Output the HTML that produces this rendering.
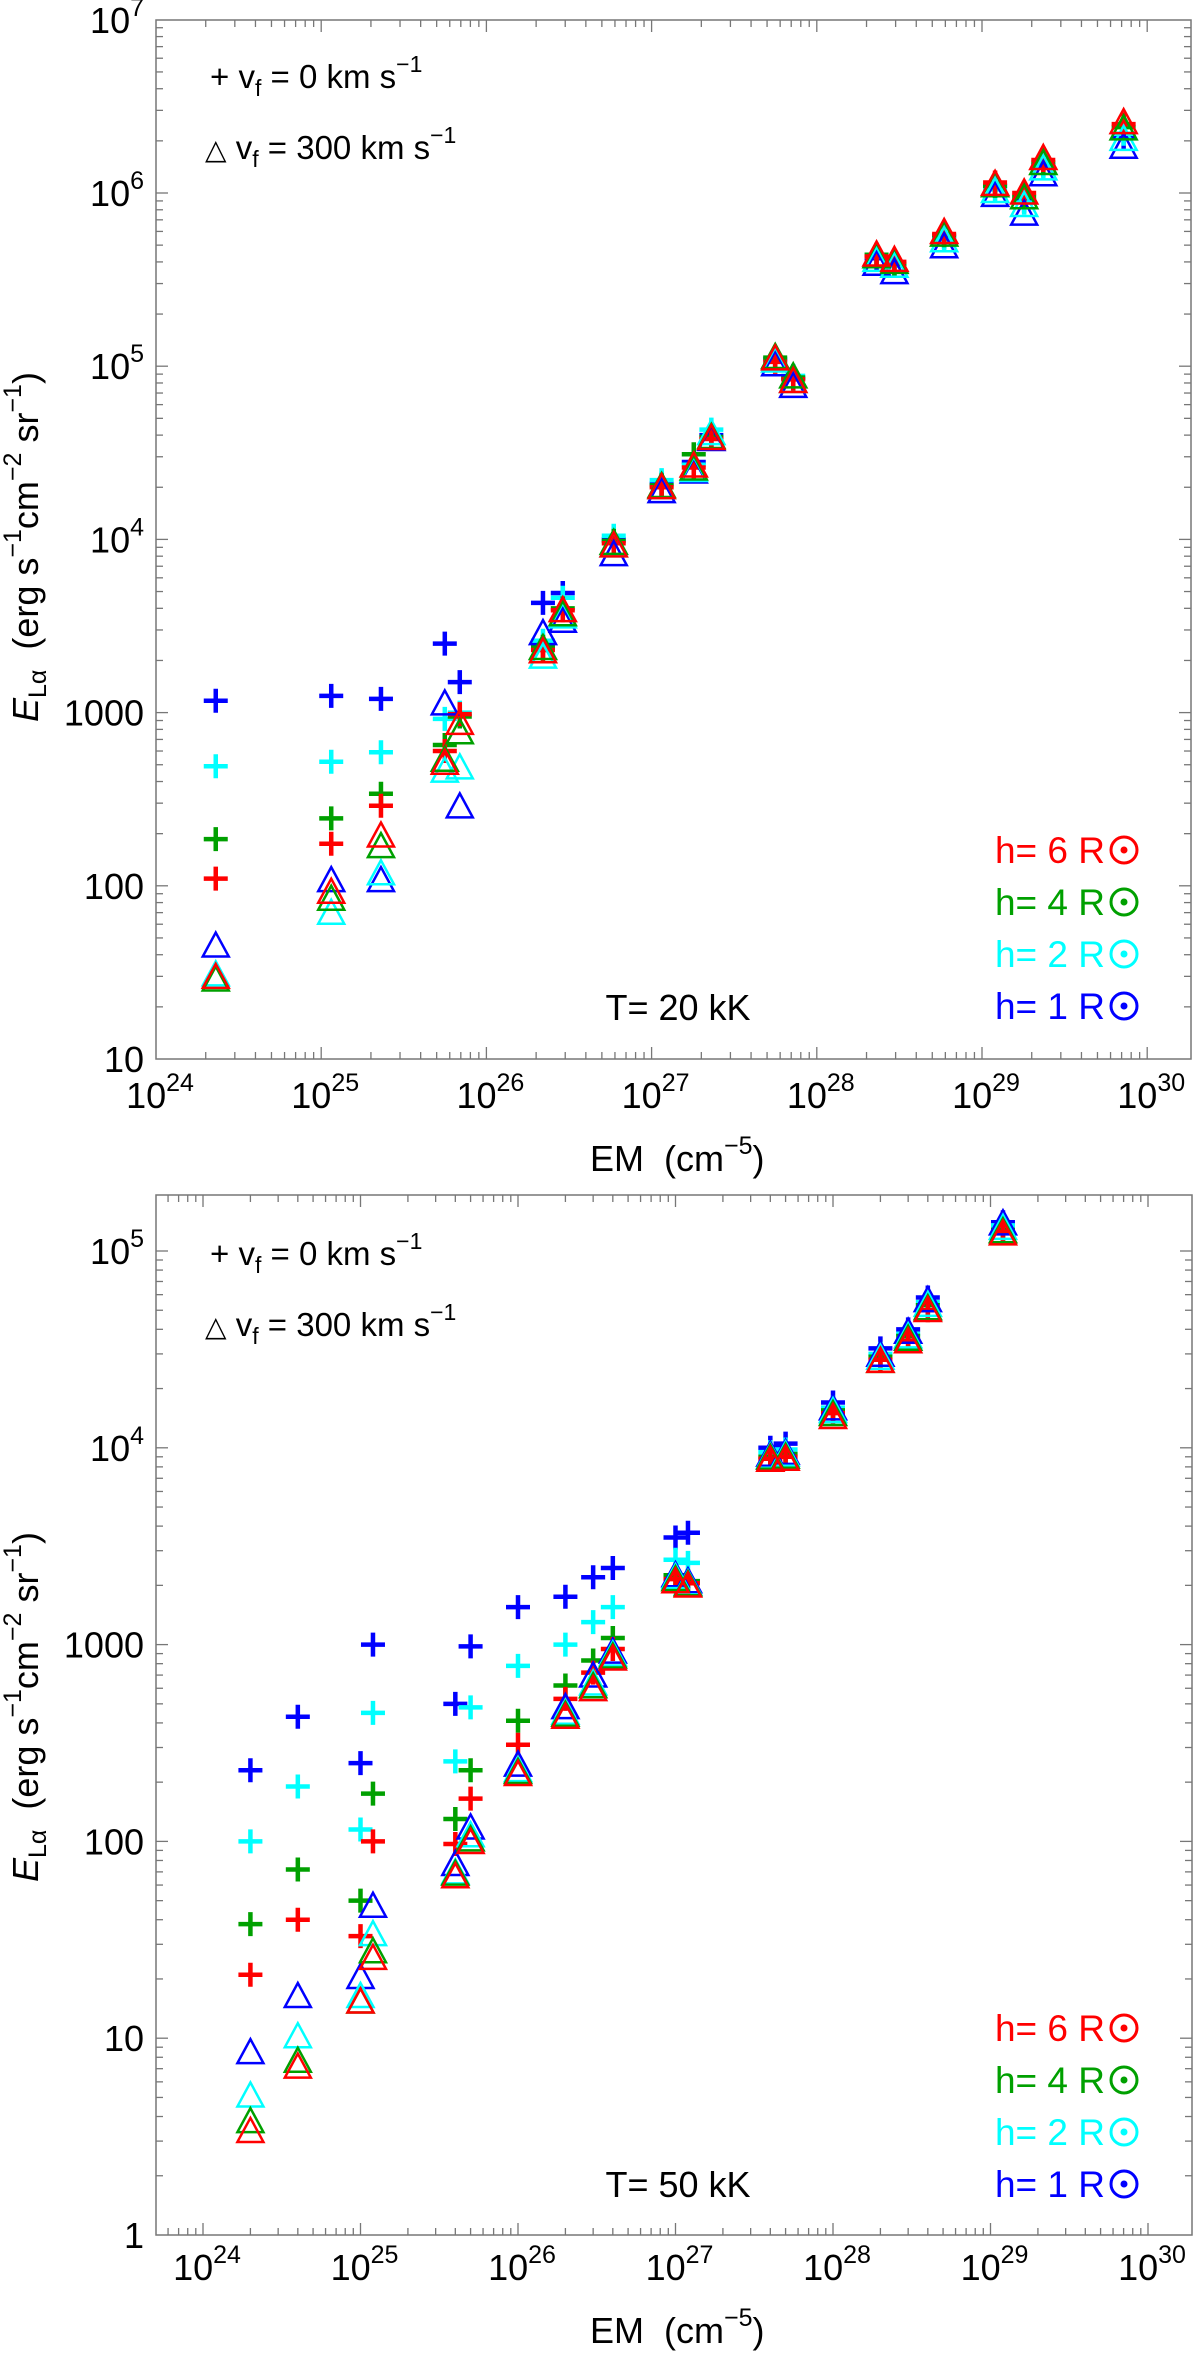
<!DOCTYPE html>
<html><head><meta charset="utf-8">
<style>
html,body{margin:0;padding:0;background:#fff;}
svg{display:block;font-family:"Liberation Sans",sans-serif;}
</style></head>
<body>
<svg id="chart" width="1200" height="2357" viewBox="0 0 1200 2357" xmlns="http://www.w3.org/2000/svg">
<rect x="0" y="0" width="1200" height="2357" fill="#fff"/>
</svg>
<script>
// ---- top panel data (T = 20 kK) ----
const emTop = [2.3e24,1.15e25,2.3e25,5.6e25,6.9e25,2.2e26,2.9e26,5.9e26,1.15e27,1.8e27,2.3e27,5.6e27,7.2e27,2.3e28,2.95e28,5.9e28,1.2e29,1.8e29,2.35e29,7.2e29];
const topPlusBlue  = [1170,1250,1200,2500,1500,4300,4900,10000,21000,28000,40000,110000,85000,420000,390000,560000,1100000,900000,1450000,2100000];
const topPlusCyan  = [490,520,590,920,1000,2600,4600,10500,22000,27000,43000,108000,88000,430000,380000,540000,1050000,880000,1400000,2200000];
const topPlusGreen = [186,245,340,650,950,2400,4000,9800,20500,31000,39000,112000,86000,440000,390000,570000,1100000,950000,1500000,2400000];
const topPlusRed   = [110,175,290,600,980,2300,3900,9500,20000,26000,38000,106000,84000,430000,400000,580000,1150000,1000000,1550000,2500000];
const topTriBlue   = [44,105,105,1100,280,2800,3300,8000,18500,24000,37000,100000,75000,380000,340000,480000,950000,740000,1250000,1800000];
const topTriCyan   = [30,68,115,450,470,2050,3500,9000,19500,24500,40000,105000,80000,400000,370000,520000,1000000,830000,1350000,2000000];
const topTriGreen  = [28,82,165,520,750,2300,3600,9300,19800,25000,38000,110000,85000,420000,390000,560000,1080000,920000,1450000,2300000];
const topTriRed    = [29,90,190,500,850,2200,3800,9000,19500,26000,37500,108000,80000,430000,400000,580000,1100000,980000,1550000,2500000];
// ---- bottom panel data (T = 50 kK) ----
const emBot = [2e24,4e24,1e25,1.2e25,4e25,5e25,1e26,2e26,3e26,4e26,1e27,1.2e27,4e27,5e27,1e28,2e28,3e28,4e28,1.2e29];
const botPlusBlue  = [230,430,250,1000,500,980,1550,1750,2200,2450,3500,3700,10000,10500,17000,32000,40000,58000,140000];
const botPlusCyan  = [100,190,115,450,255,480,780,1000,1300,1550,2700,2600,9500,9800,16000,30000,38000,55000,135000];
const botPlusGreen = [38,72,50,175,130,230,410,620,830,1080,2250,2100,9000,9300,15500,29000,37000,53000,128000];
const botPlusRed   = [21,40,33,100,97,165,310,530,720,950,2150,2050,8800,9000,15000,28000,35000,50000,125000];
const botTriBlue   = [8.3,16,20,46,75,115,240,470,680,900,2200,2050,9000,9200,15500,29000,38000,55000,135000];
const botTriCyan   = [5,10,16,33,68,105,225,440,620,870,2150,2000,8800,9000,15000,28000,36000,52000,128000];
const botTriGreen  = [3.7,7.5,15,27,67,100,220,430,600,850,2100,1980,8700,8800,14500,27000,35000,50000,123000];
const botTriRed    = [3.3,7,15,25,65,97,215,420,580,830,2050,1950,8500,8600,14000,27000,34000,49000,120000];
// ---- tick labels ----
const xTickExps = [24,25,26,27,28,29,30];
const topYTickExps = [1,2,3,4,5,6,7];
const botYTickExps = [0,1,2,3,4,5];
const legendLabels = ["h= 6 R","h= 4 R","h= 2 R","h= 1 R"];

const NS="http://www.w3.org/2000/svg";
const svg=document.getElementById('chart');
const COL={blue:"#0000ff",cyan:"#00ffff",green:"#00a000",red:"#ff0000"};
function el(tag,attrs,parent){const e=document.createElementNS(NS,tag);for(const k in attrs)e.setAttribute(k,attrs[k]);(parent||svg).appendChild(e);return e;}

function panel(cfg){
  const g=el('g',{});
  
  
  const X=v=>cfg.x0+(Math.log10(v)-24)*cfg.xd;
  const Y=v=>cfg.y0-(Math.log10(v)-cfg.ylo)*cfg.yd;
  const L=cfg.left,R=cfg.right,T=cfg.top,B=cfg.bottom;
  const frame=el('rect',{x:L,y:T,width:R-L,height:B-T,fill:'none',stroke:'#777','stroke-width':1.5},g);
  
  
  const xt=el('g',{stroke:'#777','stroke-width':1.3},g);
  
  
  for(let e=23;e<=30;e++){for(let m=1;m<10;m++){const v=m*Math.pow(10,e);const px=X(v);if(px<L+1||px>R-1)continue;const len=m===1?12:7;
    el('line',{x1:px,y1:B,x2:px,y2:B-len},xt);el('line',{x1:px,y1:T,x2:px,y2:T+len},xt);}}
  const yt=el('g',{stroke:'#777','stroke-width':1.3},g);
  
  
  for(let e=-1;e<=7;e++){for(let m=1;m<10;m++){const v=m*Math.pow(10,e);const py=Y(v);if(py<T+1||py>B-1)continue;const len=m===1?12:7;
    el('line',{x1:L,y1:py,x2:L+len,y2:py},yt);el('line',{x1:R,y1:py,x2:R-len,y2:py},yt);}}
  xTickExps.forEach(e=>{const px=X(Math.pow(10,e));
    const t=el('text',{x:px+4,y:cfg.xLabY,'font-size':36,'text-anchor':'middle',fill:'#000'},g);
    
    
    t.appendChild(document.createTextNode('10'));
    const s=el('tspan',{'font-size':25,dy:-17},t);s.textContent=String(e);});
  cfg.yExps.forEach(e=>{const py=Y(Math.pow(10,e));
    const t=el('text',{x:144,y:py+13,'font-size':36,'text-anchor':'end',fill:'#000'},g);
    
    
    if(e<=3){t.textContent=String(Math.pow(10,e));}
    else{t.appendChild(document.createTextNode('10'));const s=el('tspan',{'font-size':25,dy:-17},t);s.textContent=String(e);}});
  const xtl=el('text',{x:590,y:cfg.xTitleY,'font-size':36,fill:'#000'},g);
  
  
  xtl.appendChild(document.createTextNode('EM\u00a0\u00a0(cm'));
  const xs=el('tspan',{'font-size':25,dy:-17},xtl);xs.textContent='\u22125';
  const xs2=el('tspan',{dy:17},xtl);xs2.textContent=')';
  const ytl=el('text',{x:0,y:0,'font-size':36,fill:'#000',transform:`translate(38,${cfg.yTitleEnd}) rotate(-90)`},g);
  
  
  const ye=el('tspan',{'font-style':'italic'},ytl);ye.textContent='E';
  const yl=el('tspan',{'font-size':25,dy:8},ytl);yl.textContent='L\u03b1';
  const yr=el('tspan',{dy:-8},ytl);yr.textContent='\u00a0\u00a0(erg s';
  const p1=el('tspan',{'font-size':25,dy:-17},ytl);p1.textContent='\u22121';
  const p2=el('tspan',{dy:17},ytl);p2.textContent='cm';
  const p3=el('tspan',{'font-size':25,dy:-17},ytl);p3.textContent='\u22122';
  const p4=el('tspan',{dy:17},ytl);p4.textContent='\u00a0sr';
  const p5=el('tspan',{'font-size':25,dy:-17},ytl);p5.textContent='\u22121';
  const p6=el('tspan',{dy:17},ytl);p6.textContent=')';
  const a1=el('text',{x:210,y:cfg.annY1,'font-size':33,fill:'#000'},g);
  
  
  a1.appendChild(document.createTextNode('+ v'));
  let s=el('tspan',{'font-size':23,dy:8},a1);s.textContent='f';
  s=el('tspan',{dy:-8},a1);s.textContent=' = 0 km s';
  s=el('tspan',{'font-size':23,dy:-16},a1);s.textContent='\u22121';
  const a2=el('text',{x:205,y:cfg.annY2,'font-size':33,fill:'#000'},g);
  
  
  s=el('tspan',{'font-size':28},a2);s.textContent='\u25b3';
  s=el('tspan',{},a2);s.textContent=' v';
  s=el('tspan',{'font-size':23,dy:8},a2);s.textContent='f';
  s=el('tspan',{dy:-8},a2);s.textContent=' = 300 km s';
  s=el('tspan',{'font-size':23,dy:-16},a2);s.textContent='\u22121';
  const tl=el('text',{x:678,y:cfg.tY,'font-size':36,'text-anchor':'middle',fill:'#000'},g);
  
  
  tl.textContent=cfg.tText;
  const cols=[COL.red,COL.green,COL.cyan,COL.blue];
  legendLabels.forEach((lab,i)=>{const yy=cfg.legY0+i*52;
    const t=el('text',{x:1105,y:yy,'font-size':37,'text-anchor':'end',fill:cols[i]},g);
    
    
    t.textContent=lab;
    el('circle',{cx:1124,cy:yy-13,r:13,fill:'none',stroke:cols[i],'stroke-width':3},g);
    el('circle',{cx:1124,cy:yy-13,r:3.5,fill:cols[i]},g);});
  const series=cfg.series;
  const mg=el('g',{},g);
  
  
  series.plus.forEach(sr=>{sr.vals.forEach((v,i)=>{const px=X(cfg.em[i]),py=Y(v);
    const p=el('path',{d:`M${px-12},${py}H${px+12}M${px},${py-12}V${py+12}`,stroke:sr.c,'stroke-width':4.5,fill:'none'},mg);
    
    });});
  series.tri.forEach(sr=>{sr.vals.forEach((v,i)=>{const px=X(cfg.em[i]),py=Y(v);
    const p=el('path',{d:`M${px},${py-15}L${px+13},${py+9}L${px-13},${py+9}Z`,stroke:sr.c,'stroke-width':2.5,fill:'none'},mg);
    
    });});
}

panel({name:'top-panel-20kK',x0:156,xd:165.2,y0:1059,ylo:1,yd:173.2,left:156,right:1191,top:20,bottom:1059,
  xLabY:1108,xTitleY:1171,yTitleEnd:722,annY1:88,annY2:159,tY:1020,tText:'T= 20 kK',legY0:863,yExps:topYTickExps,em:emTop,
  series:{plus:[{c:COL.blue,vals:topPlusBlue},{c:COL.cyan,vals:topPlusCyan},{c:COL.green,vals:topPlusGreen},{c:COL.red,vals:topPlusRed}],
          tri:[{c:COL.blue,vals:topTriBlue},{c:COL.cyan,vals:topTriCyan},{c:COL.green,vals:topTriGreen},{c:COL.red,vals:topTriRed}]}});
panel({name:'bottom-panel-50kK',x0:203,xd:157.5,y0:2235,ylo:0,yd:196.8,left:156,right:1192,top:1195,bottom:2235,
  xLabY:2280,xTitleY:2343,yTitleEnd:1882,annY1:1265,annY2:1336,tY:2197,tText:'T= 50 kK',legY0:2041,yExps:botYTickExps,em:emBot,
  series:{plus:[{c:COL.blue,vals:botPlusBlue},{c:COL.cyan,vals:botPlusCyan},{c:COL.green,vals:botPlusGreen},{c:COL.red,vals:botPlusRed}],
          tri:[{c:COL.blue,vals:botTriBlue},{c:COL.cyan,vals:botTriCyan},{c:COL.green,vals:botTriGreen},{c:COL.red,vals:botTriRed}]}});
</script>
</body></html>
